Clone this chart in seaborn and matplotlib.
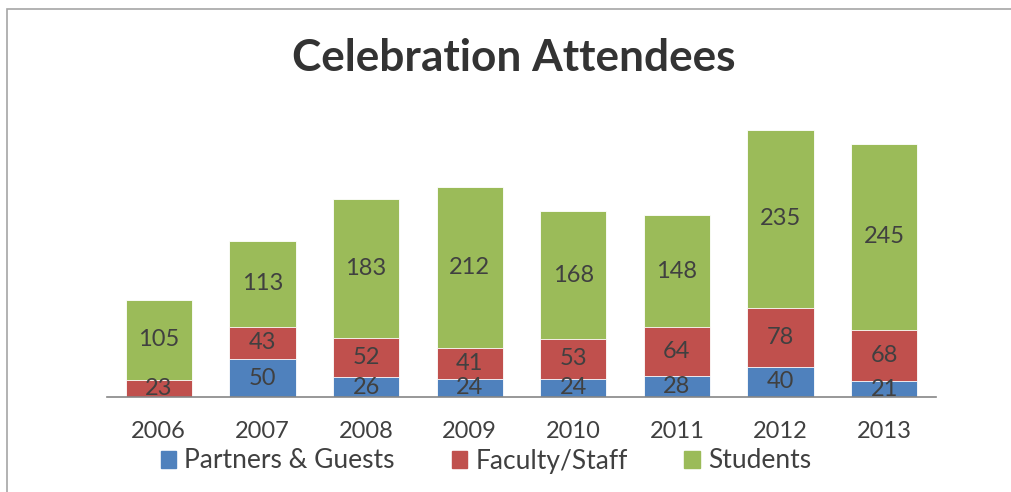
import matplotlib
matplotlib.use('Agg')
import matplotlib.pyplot as plt
import matplotlib.patches as mpatches
import pandas as pd
import seaborn as sns

years = ['2006', '2007', '2008', '2009', '2010', '2011', '2012', '2013']
partners = [0, 50, 26, 24, 24, 28, 40, 21]
faculty = [23, 43, 52, 41, 53, 64, 78, 68]
students = [105, 113, 183, 212, 168, 148, 235, 245]
series_names = ['Partners & Guests', 'Faculty/Staff', 'Students']
colors = ['#4F81BD', '#C0504D', '#9BBB59']

sns.set_style('white')
plt.rcParams['font.family'] = ['Lato', 'DejaVu Sans']
text_color = '#404040'

df = pd.DataFrame({'year': years, 'partners': partners,
                   'faculty': faculty, 'students': students})
df['low'] = df['partners']
df['mid'] = df['partners'] + df['faculty']
df['top'] = df['mid'] + df['students']

fig = plt.figure(figsize=(10.11, 4.92), dpi=100)
ax = fig.add_axes([107 / 1011, 95 / 492, 829 / 1011, 303 / 492])

# stack by drawing totals back to front
for col, c in zip(['top', 'mid', 'low'], colors[::-1]):
    sns.barplot(data=df, x='year', y=col, order=years, color=c, saturation=1,
                width=0.64, edgecolor='white', linewidth=0.6, ax=ax)

# segment labels
for i in range(len(years)):
    bottom = 0
    for vals in (partners, faculty, students):
        v = vals[i]
        if v > 0:
            ax.text(i, bottom + v / 2, str(v), ha='center', va='center',
                    fontsize=17, color=text_color)
        bottom += v

ax.set_xlim(-0.5, len(years) - 0.5)
ax.set_ylim(0, 400)
ax.set_xlabel('')
ax.set_ylabel('')
ax.set_yticks([])
for s in ['top', 'right', 'left']:
    ax.spines[s].set_visible(False)
ax.spines['bottom'].set_color('#868686')
ax.spines['bottom'].set_linewidth(1.2)
ax.tick_params(axis='x', length=0, pad=17, labelsize=17, labelcolor=text_color)

handles = [mpatches.Patch(color=c, label=n) for c, n in zip(colors, series_names)]
fig.legend(handles=handles, loc='center', bbox_to_anchor=(486 / 1011, 1 - 461 / 492),
           ncol=3, frameon=False, fontsize=19, handlelength=0.6, handleheight=0.6,
           handletextpad=0.3, columnspacing=2.15, labelcolor=text_color)

fig.text(514 / 1011, 1 - 58 / 492, 'Celebration Attendees', ha='center', va='center',
         fontsize=31.8, fontweight='bold', color='#333333')

# chart frame, clipped on the right and bottom like the reference
fig.patches.append(mpatches.Rectangle((6.5 / 1011, -0.1), 1.2, 1 - 8.5 / 492 + 0.1,
                                      transform=fig.transFigure, fill=False,
                                      edgecolor='#A6A6A6', linewidth=1.2))

fig.savefig('out.png', dpi=100)
